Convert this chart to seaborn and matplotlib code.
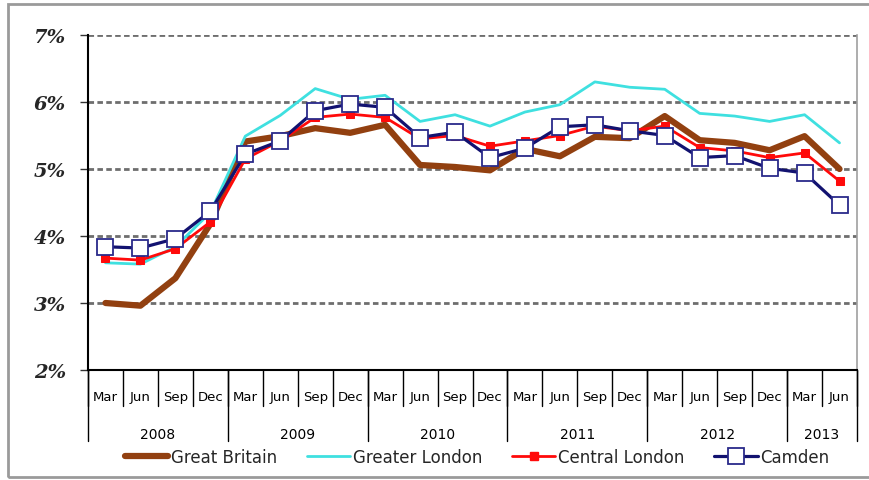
import matplotlib
matplotlib.use("Agg")
import matplotlib.pyplot as plt
import seaborn as sns
import pandas as pd
import numpy as np
from matplotlib.lines import Line2D
from matplotlib.patches import Rectangle

months = ["Mar", "Jun", "Sep", "Dec"] * 5 + ["Mar", "Jun"]
years = ["2008", "2009", "2010", "2011", "2012", "2013"]
year_counts = [4, 4, 4, 4, 4, 2]

great_britain = [3.00, 2.96, 3.37, 4.18, 5.41, 5.49, 5.61, 5.54, 5.66, 5.06, 5.03, 4.98,
                 5.30, 5.19, 5.48, 5.46, 5.79, 5.43, 5.39, 5.28, 5.49, 5.00]
greater_london = [3.60, 3.58, 3.84, 4.35, 5.49, 5.80, 6.20, 6.04, 6.10, 5.71, 5.81, 5.64,
                  5.85, 5.96, 6.30, 6.22, 6.19, 5.83, 5.79, 5.71, 5.81, 5.39]
central_london = [3.67, 3.64, 3.81, 4.21, 5.15, 5.42, 5.77, 5.82, 5.77, 5.45, 5.50, 5.34,
                  5.42, 5.50, 5.64, 5.57, 5.64, 5.32, 5.27, 5.17, 5.24, 4.82]
camden = [3.84, 3.82, 3.96, 4.37, 5.22, 5.42, 5.87, 5.97, 5.92, 5.47, 5.55, 5.17,
          5.31, 5.63, 5.66, 5.57, 5.50, 5.17, 5.20, 5.01, 4.94, 4.46]

series_names = ["Great Britain", "Greater London", "Central London", "Camden"]
y_ticks = [2, 3, 4, 5, 6, 7]
y_tick_labels = ["2%", "3%", "4%", "5%", "6%", "7%"]

sns.set_style("white")
plt.rcParams["font.family"] = ["DejaVu Sans"]

W, H = 869, 481
fig = plt.figure(figsize=(W / 100, H / 100), dpi=100)
ax_l, ax_r, ax_t, ax_b = 88, 857, 36, 371
ax = fig.add_axes([ax_l / W, 1 - ax_b / H, (ax_r - ax_l) / W, (ax_b - ax_t) / H])

idx = np.arange(len(months))
styles = {
    "Great Britain": dict(color="#924010", linewidth=4.5, marker=None),
    "Greater London": dict(color="#3FE0E0", linewidth=2.0, marker=None),
    "Central London": dict(color="#FF0A0A", linewidth=2.0, marker="s", markersize=6,
                           markerfacecolor="#FF0A0A", markeredgecolor="#FF0A0A"),
    "Camden": dict(color="#121270", linewidth=2.3, marker="s", markersize=11,
                   markerfacecolor="white", markeredgecolor="#2A2A8A", markeredgewidth=1.3),
}
data = {"Great Britain": great_britain, "Greater London": greater_london,
        "Central London": central_london, "Camden": camden}

for name in series_names:
    df = pd.DataFrame({"x": idx, "y": data[name]})
    sns.lineplot(data=df, x="x", y="y", ax=ax, zorder=3, **styles[name])

ax.set_xlim(-0.5, len(months) - 0.5)
ax.set_ylim(2, 7)
ax.set_yticks(y_ticks)
ax.set_yticklabels(y_tick_labels, fontsize=14, fontweight="bold", style="italic",
                   family="DejaVu Serif")
ax.tick_params(axis="y", direction="out", length=6, width=1, color="#333333", pad=10, left=True)
ax.set_xticks([])
ax.set_xlabel("")
ax.set_ylabel("")

for yv in [3, 4, 5, 6, 7]:
    ax.axhline(yv, color="#6E6E6E", linestyle=(0, (2, 1.2)), linewidth=2.0, zorder=1)

ax.spines["top"].set_visible(False)
ax.spines["left"].set_color("black")
ax.spines["left"].set_linewidth(1.5)
ax.spines["bottom"].set_color("black")
ax.spines["bottom"].set_linewidth(1.5)
ax.spines["right"].set_color("#A0A0A0")
ax.spines["right"].set_linewidth(1.2)

axh = ax_b - ax_t
tr = ax.get_xaxis_transform()
month_line_end = -(407 - ax_b) / axh
year_line_end = -(442 - ax_b) / axh
for i in range(len(months) + 1):
    ax.plot([i - 0.5, i - 0.5], [0, month_line_end], transform=tr, color="black",
            linewidth=1.0, clip_on=False)
for i, m in enumerate(months):
    ax.text(i, -(398 - ax_b) / axh, m, transform=tr, ha="center", va="center",
            fontsize=9.5, color="black")
pos = -0.5
ax.plot([pos, pos], [0, year_line_end], transform=tr, color="black", linewidth=1.0, clip_on=False)
for y, c in zip(years, year_counts):
    ax.text(pos + c / 2, -(435 - ax_b) / axh, y, transform=tr, ha="center", va="center",
            fontsize=10, color="black")
    pos += c
    ax.plot([pos, pos], [0, year_line_end], transform=tr, color="black", linewidth=1.0,
            clip_on=False)

handles = []
for name in series_names:
    handles.append(Line2D([], [], **styles[name]))
fig.legend(handles, series_names, loc="center", bbox_to_anchor=(0.549, 1 - 458 / H),
           ncol=4, frameon=False, fontsize=12, handlelength=2.6, columnspacing=1.8,
           handletextpad=0.15)

fig.patches.append(Rectangle((8 / W, 1 - 478 / H), (W - 8) / W + 0.01, (478 - 5) / H,
                             transform=fig.transFigure, fill=False, edgecolor="#9A9A9A",
                             linewidth=2))

fig.savefig("out.png", dpi=100)
